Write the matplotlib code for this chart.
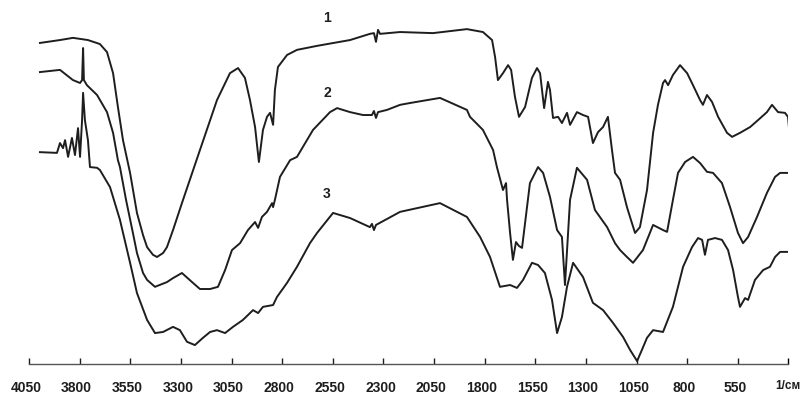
import matplotlib.pyplot as plt
from matplotlib.transforms import ScaledTranslation

# espectro 1
wn1 = [3996, 3897, 3833, 3759, 3700, 3665, 3635, 3611, 3586, 3551, 3517, 3487, 3467, 3438,
       3418, 3388, 3369, 3339, 3295, 3206, 3122, 3058, 3018, 2984, 2959, 2934, 2915, 2895,
       2875, 2860, 2845, 2836, 2821, 2776, 2727, 2628, 2465, 2367, 2347, 2337, 2327, 2317,
       2218, 2056, 1888, 1809, 1764, 1749, 1735, 1710, 1685, 1670, 1651, 1631, 1601, 1567,
       1542, 1527, 1507, 1488, 1478, 1463, 1438, 1419, 1394, 1379, 1345, 1315, 1290, 1266,
       1241, 1216, 1192, 1172, 1157, 1132, 1098, 1083, 1058, 1034, 999, 969, 945, 920, 910,
       895, 871, 836, 801, 772, 737, 723, 703, 678, 648, 604, 579, 540, 490, 451, 407, 382,
       352, 318, 303, 298]
t1 = [88.2, 89.0, 89.6, 89.0, 87.9, 85.7, 79.9, 70.6, 61.5, 52.5, 41.5, 35.4, 32.1, 30.0,
      29.4, 30.5, 32.1, 36.8, 44.2, 58.8, 72.5, 79.9, 81.3, 78.6, 72.5, 65.1, 55.5, 64.3,
      67.9, 69.0, 65.7, 75.3, 81.6, 84.9, 86.3, 87.4, 89.0, 90.7, 90.9, 88.5, 91.8, 90.7,
      91.2, 90.9, 92.0, 91.2, 89.0, 84.3, 78.0, 79.9, 82.1, 80.8, 73.4, 67.9, 70.6, 78.6,
      81.3, 79.9, 70.3, 77.5, 75.3, 67.6, 67.9, 66.2, 69.0, 65.7, 69.2, 68.4, 67.9, 60.7,
      63.7, 65.1, 67.9, 58.8, 52.5, 50.6, 43.1, 40.4, 36.0, 37.6, 47.8, 63.5, 71.2, 77.2, 78.0,
      76.6, 79.4, 82.1, 79.9, 76.6, 72.5, 71.2, 73.9, 72.0, 67.9, 63.5, 62.4, 63.5, 65.1, 67.0,
      69.2, 71.2, 69.2, 69.0, 67.9, 64.8]

# espectro 2
wn2 = [3996, 3897, 3833, 3798, 3788, 3783, 3779, 3764, 3714, 3665, 3635, 3611, 3601, 3571,
       3537, 3517, 3487, 3467, 3428, 3369, 3339, 3295, 3245, 3206, 3156, 3117, 3082, 3048,
       3008, 2969, 2934, 2919, 2900, 2875, 2850, 2845, 2836, 2811, 2761, 2727, 2648, 2564,
       2529, 2465, 2401, 2357, 2347, 2337, 2327, 2283, 2218, 2169, 2021, 1888, 1873, 1823,
       1809, 1759, 1740, 1710, 1695, 1690, 1675, 1661, 1646, 1631, 1616, 1577, 1537, 1512,
       1478, 1443, 1419, 1404, 1379, 1345, 1295, 1256, 1196, 1157, 1132, 1098, 1068, 1019,
       969, 920, 900, 871, 846, 811, 772, 737, 703, 673, 629, 589, 550, 525, 500, 456, 407,
       367, 342, 303]
t2 = [80.2, 80.8, 78.0, 77.2, 78.0, 86.8, 78.0, 76.6, 73.9, 69.2, 63.5, 56.0, 54.1, 45.1,
      36.0, 30.5, 25.0, 23.1, 21.2, 22.5, 23.6, 25.0, 22.5, 20.6, 20.6, 21.2, 25.8, 31.3,
      33.2, 36.8, 39.0, 37.4, 40.4, 41.8, 44.2, 43.1, 45.1, 51.4, 56.0, 56.9, 64.3, 69.2,
      70.3, 69.2, 68.4, 68.4, 69.5, 67.6, 69.2, 69.8, 71.2, 71.7, 73.1, 69.8, 67.9, 65.1,
      64.3, 58.8, 54.1, 47.8, 49.7, 45.1, 36.0, 28.6, 33.5, 32.4, 31.9, 49.7, 54.1, 52.5,
      45.9, 36.8, 34.9, 21.7, 45.1, 53.9, 50.6, 42.3, 37.6, 33.2, 31.3, 29.4, 27.8, 31.3,
      38.2, 36.8, 36.3, 45.1, 52.5, 55.5, 56.9, 55.2, 52.8, 52.5, 49.7, 43.1, 36.0, 33.2, 34.9,
      40.4, 47.0, 51.4, 52.5, 52.5]

# espectro 3
wn3 = [3996, 3912, 3897, 3882, 3872, 3857, 3838, 3823, 3808, 3798, 3788, 3783, 3774, 3759,
       3749, 3714, 3700, 3650, 3601, 3551, 3517, 3467, 3428, 3388, 3339, 3305, 3270, 3231,
       3191, 3156, 3122, 3082, 3043, 2994, 2944, 2919, 2895, 2845, 2826, 2776, 2727, 2663,
       2628, 2549, 2465, 2367, 2357, 2347, 2337, 2218, 2021, 1888, 1823, 1774, 1725, 1675,
       1641, 1611, 1567, 1537, 1503, 1468, 1443, 1419, 1394, 1364, 1315, 1266, 1216, 1167,
       1117, 1083, 1048, 1024, 999, 969, 920, 871, 821, 777, 747, 727, 713, 698, 663, 629,
       599, 574, 550, 540, 515, 500, 466, 426, 392, 367, 342, 303]
t3 = [58.2, 58.0, 60.7, 59.3, 61.5, 56.9, 62.1, 57.4, 64.8, 56.9, 67.0, 74.5, 67.0, 61.5,
      54.1, 53.9, 53.3, 48.6, 39.6, 27.8, 19.5, 12.1, 8.5, 8.8, 10.2, 9.3, 6.1, 5.2,
      7.2, 8.8, 9.3, 8.5, 10.2, 12.1, 14.8, 14.0, 15.7, 16.2, 18.4, 22.3, 26.7, 33.2,
      36.0, 41.5, 40.1, 37.6, 38.5, 36.8, 38.2, 41.8, 44.2, 40.4, 34.9, 29.4, 21.2, 21.7,
      20.9, 23.1, 27.8, 27.2, 25.0, 17.6, 8.5, 12.9, 21.2, 27.8, 23.9, 16.8, 14.8, 11.3,
      7.4, 3.9, 0.8, 3.9, 7.2, 9.3, 8.8, 15.7, 26.7, 32.1, 34.6, 34.1, 30.0, 34.1, 34.6, 34.1,
      31.3, 25.8, 18.4, 15.7, 18.1, 17.6, 23.1, 25.8, 26.7, 29.4, 30.8, 30.8]

xticks = [4050, 3800, 3550, 3300, 3050, 2800, 2550, 2300, 2050, 1800, 1550, 1300, 1050, 800, 550]
nomes = ["1", "2", "3"]
pos_nomes = [(2579, 95.1), (2579, 74.5), (2579, 46.7)]

plt.rcParams['font.family'] = ['Liberation Sans', 'DejaVu Sans']

fig = plt.figure(figsize=(8.03, 3.94), dpi=100)
ax = fig.add_axes([29 / 803, 30 / 394, 759 / 803, 364 / 394])

cor = "#1e1e1e"
for wn, t in [(wn1, t1), (wn2, t2), (wn3, t3)]:
    ax.plot(wn, t, color=cor, lw=1.4, solid_joinstyle="round")

for nome, (x, y) in zip(nomes, pos_nomes):
    ax.text(x, y, nome, ha="center", va="center", fontsize=10, fontweight="bold", color=cor)

ax.set_xlim(4050, 303)
ax.set_ylim(0, 100)
ax.set_xticks(xticks)
ax.set_xticklabels([str(v) for v in xticks], fontsize=10, fontweight="bold", color=cor)
ax.set_xticks([303], minor=True)
ax.tick_params(axis="x", direction="in", length=4, width=1, pad=12, colors=cor)
ax.tick_params(axis="x", which="minor", direction="in", length=4, width=1)
ax.set_yticks([])
for s in ["top", "left", "right"]:
    ax.spines[s].set_visible(False)
ax.spines["bottom"].set_color("#555555")
ax.spines["bottom"].set_linewidth(1)

deslocar = ScaledTranslation(-3 / 100, 0, fig.dpi_scale_trans)
for lbl in ax.get_xticklabels():
    lbl.set_transform(lbl.get_transform() + deslocar)

fig.text(801 / 803, 8 / 394, "1/см", ha="right", va="center", fontsize=8.5, fontweight="bold", color=cor)

plt.savefig("out.png", dpi=100)
plt.close()
